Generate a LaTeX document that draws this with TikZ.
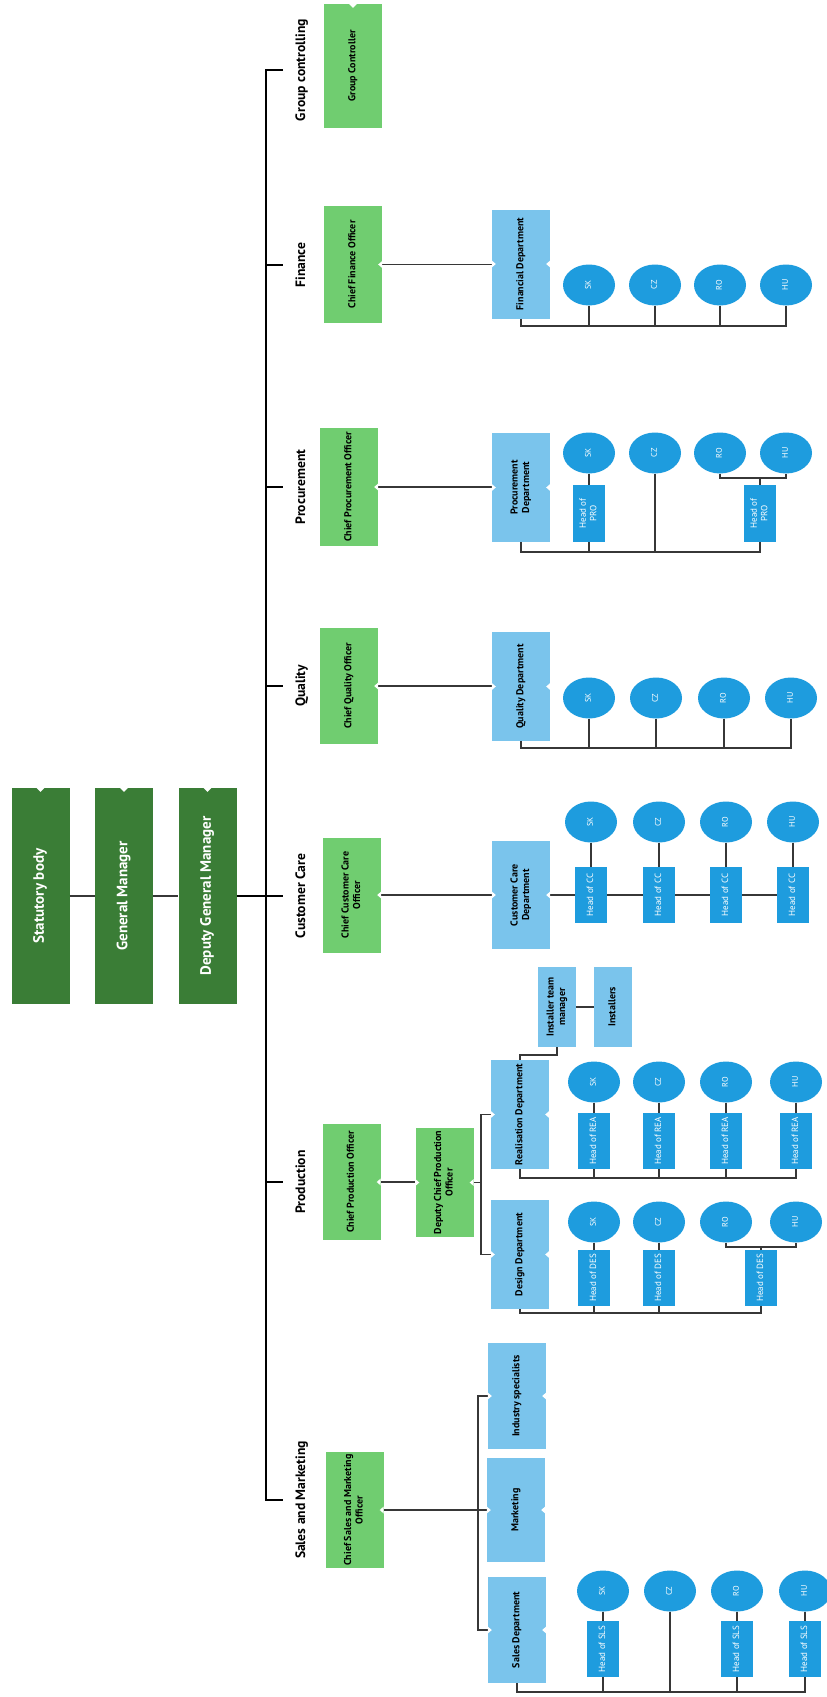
\documentclass[tikz,border=0pt]{standalone}
\usepackage{fontspec}
\setmainfont{PT Sans}
\usetikzlibrary{shapes.geometric}
\definecolor{dkgreen}{RGB}{58,125,54}
\definecolor{ltgreen}{RGB}{112,205,112}
\definecolor{ltblue}{RGB}{122,196,236}
\definecolor{mdblue}{RGB}{30,156,222}
\definecolor{lnc}{RGB}{55,55,55}
\newcommand\rt[1]{\rotatebox{90}{\begin{tabular}{@{}c@{}}#1\end{tabular}}}
\newcommand\notchR[1]{\fill[white] ([yshift=3.5pt]#1) -- ([xshift=-4pt]#1) -- ([yshift=-3.5pt]#1) -- cycle;}
\newcommand\notchL[1]{\fill[white] ([yshift=3.5pt]#1) -- ([xshift=4pt]#1) -- ([yshift=-3.5pt]#1) -- cycle;}
\newcommand\notchT[1]{\fill[white] ([xshift=-4pt]#1) -- ([yshift=-4pt]#1) -- ([xshift=4pt]#1) -- cycle;}
\begin{document}
\begin{tikzpicture}[x=1pt,y=-1pt,
  topbox/.style={fill=dkgreen, inner sep=0pt, minimum width=58pt, minimum height=216pt, text=white, font=\bfseries\fontsize{15}{17}\selectfont},
  chiefbox/.style={fill=ltgreen, inner sep=0pt, minimum width=58pt, font=\bfseries\fontsize{10}{11.5}\selectfont},
  deptbox/.style={fill=ltblue, inner sep=0pt, minimum width=58pt, font=\bfseries\fontsize{10}{11.5}\selectfont},
  headbox/.style={fill=mdblue, inner sep=0pt, minimum width=32pt, minimum height=56pt, text=white, font=\fontsize{9}{10.5}\selectfont},
  ctry/.style={ellipse, fill=mdblue, inner sep=0pt, minimum width=52pt, minimum height=41pt, text=white, font=\fontsize{8.2}{9}\selectfont},
  divtext/.style={inner sep=0pt, font=\bfseries\fontsize{13.6}{16}\selectfont},
  conn/.style={draw=lnc, line width=1.4pt},
  spine/.style={draw=black, line width=1.6pt},
]
\fill[white] (0,0) rectangle (827,1697);
\useasboundingbox (0,0) rectangle (827,1697);

% ---------- top level ----------
\node[topbox] (stat) at (40.5,896) {\rt{Statutory body}};
\node[topbox] (gm) at (124,896) {\rt{General Manager}};
\node[topbox] (dgm) at (207.5,896) {\rt{Deputy General Manager}};

% ---------- spine ----------
\foreach \n/\y in {gc/70, fin/265, pro/487, qua/686, cc/896, prd/1182, sm/1500} {
  \coordinate (sp\n) at (266,\y);
  \coordinate (tk\n) at (283,\y);
}
\draw[spine] (tkgc) -- (spgc) -- (spsm) -- (tksm);
\foreach \n in {fin, pro, qua, cc, prd} \draw[spine] (sp\n) -- (tk\n);
\draw[conn] (stat.east) -- (gm.west);
\draw[conn] (gm.east) -- (dgm.west);
\draw[spine] (dgm.east) -- (spcc);

% ---------- division labels ----------
\node[divtext] (lgc) at (302,70) {\rt{Group controlling}};
\node[divtext] (lfin) at (302,265) {\rt{Finance}};
\node[divtext] (lpro) at (302,487) {\rt{Procurement}};
\node[divtext] (lqua) at (302,686) {\rt{Quality}};
\node[divtext] (lcc) at (302,896) {\rt{Customer Care}};
\node[divtext] (lprd) at (302,1182) {\rt{Production}};
\node[divtext] (lsm) at (302,1500) {\rt{Sales and Marketing}};

% ---------- chiefs ----------
\node[chiefbox, minimum height=124pt] (gcb) at (353,66) {\rt{Group Controller}};
\node[chiefbox, minimum height=117pt] (cfo) at (353,264.5) {\rt{Chief Finance Officer}};
\node[chiefbox, minimum height=118pt] (cpo) at (349,487) {\rt{Chief Procurement Officer}};
\node[chiefbox, minimum height=116pt] (cqo) at (349,686) {\rt{Chief Quality Officer}};
\node[chiefbox, minimum height=115pt] (ccco) at (352,895) {\rt{Chief Customer Care\\Officer}};
\node[chiefbox, minimum height=116pt] (cprd) at (351.5,1182) {\rt{Chief Production Officer}};
\node[chiefbox, minimum height=116pt] (csmo) at (354.5,1510) {\rt{Chief Sales and Marketing\\Officer}};
\node[chiefbox, minimum height=109pt] (dcpo) at (444.5,1182.5) {\rt{Deputy Chief Production\\Officer}};

% ---------- departments ----------
\node[deptbox, minimum height=109pt] (fin) at (521,264) {\rt{Financial Department}};
\node[deptbox, minimum height=109pt] (prc) at (521,487.5) {\rt{Procurement\\Department}};
\node[deptbox, minimum height=109pt] (qua) at (521,686.5) {\rt{Quality Department}};
\node[deptbox, minimum height=108pt] (ccd) at (521,895) {\rt{Customer Care\\Department}};
\node[deptbox, minimum height=109pt] (rea) at (520,1114.5) {\rt{Realisation Department}};
\node[deptbox, minimum height=109pt] (des) at (520,1254.5) {\rt{Design Department}};
\node[deptbox, minimum height=106pt] (ind) at (517,1396) {\rt{Industry specialists}};
\node[deptbox, minimum height=104pt] (mkt) at (516,1510) {\rt{Marketing}};
\node[deptbox, minimum height=106pt] (sls) at (517,1630) {\rt{Sales Department}};
\node[deptbox, minimum width=38pt, minimum height=80pt] (itm) at (557,1007) {\rt{Installer team\\manager}};
\node[deptbox, minimum width=38pt, minimum height=80pt] (ins) at (613,1007) {\rt{Installers}};

% ---------- countries ----------
\foreach \rw/\y/\a/\b/\c/\d in {f/285/589/655/720/786, p/453/589/655/720/786, q/698/589/656/724/791, c/822/591/659/726/793, r/1082/594/659/726/796, d/1222/594/659/726/796, s/1591/603/670/737/805} {
  \node[ctry] (\rw SK) at (\a,\y) {\rt{SK}};
  \node[ctry] (\rw CZ) at (\b,\y) {\rt{CZ}};
  \node[ctry] (\rw RO) at (\c,\y) {\rt{RO}};
  \node[ctry] (\rw HU) at (\d,\y) {\rt{HU}};
}

% ---------- heads ----------
\node[headbox, minimum height=57pt] (hp1) at (589,513.5) {\rt{Head of\\PRO}};
\node[headbox, minimum height=57pt] (hp2) at (760,513.5) {\rt{Head of\\PRO}};
\node[headbox] (hc1) at (591,895) {\rt{Head of CC}};
\node[headbox] (hc2) at (659,895) {\rt{Head of CC}};
\node[headbox] (hc3) at (726,895) {\rt{Head of CC}};
\node[headbox] (hc4) at (793,895) {\rt{Head of CC}};
\node[headbox] (hr1) at (594,1141) {\rt{Head of REA}};
\node[headbox] (hr2) at (659,1141) {\rt{Head of REA}};
\node[headbox] (hr3) at (726,1141) {\rt{Head of REA}};
\node[headbox] (hr4) at (796,1141) {\rt{Head of REA}};
\node[headbox] (hd1) at (594,1278) {\rt{Head of DES}};
\node[headbox] (hd2) at (659,1278) {\rt{Head of DES}};
\node[headbox] (hd3) at (761,1278) {\rt{Head of DES}};
\node[headbox] (hs1) at (603,1649) {\rt{Head of SLS}};
\node[headbox] (hs3) at (737,1649) {\rt{Head of SLS}};
\node[headbox] (hs4) at (805,1649) {\rt{Head of SLS}};

% ---------- chief -> department ----------
\draw[conn] (cfo.east) -- (cfo.east -| fin.west);
\draw[conn] (cpo.east) -- (cpo.east -| prc.west);
\draw[conn] (cqo.east) -- (cqo.east -| qua.west);
\draw[conn] (ccco.east) -- (ccco.east -| ccd.west);

% ---------- finance ----------
\coordinate (fbus) at (521,326);
\draw[conn] (fin.south) -- (fin.south |- fbus) -- (fHU.south |- fbus) -- (fHU.south);
\foreach \e in {SK,CZ,RO} \draw[conn] (f\e.south) -- (f\e.south |- fbus);

% ---------- procurement ----------
\coordinate (pbus) at (521,552);
\coordinate (pjoin) at (720,478);
\draw[conn] (prc.south) -- (prc.south |- pbus) -- (hp2.south |- pbus) -- (hp2.south);
\draw[conn] (pSK.south) -- (hp1.north);
\draw[conn] (hp1.south) -- (hp1.south |- pbus);
\draw[conn] (pCZ.south) -- (pCZ.south |- pbus);
\draw[conn] (pRO.south) -- (pRO.south |- pjoin) -- (pHU.south |- pjoin) -- (pHU.south);
\draw[conn] (hp2.north |- pjoin) -- (hp2.north);

% ---------- quality ----------
\coordinate (qbus) at (521,748);
\draw[conn] (qua.south) -- (qua.south |- qbus) -- (qHU.south |- qbus) -- (qHU.south);
\foreach \e in {SK,CZ,RO} \draw[conn] (q\e.south) -- (q\e.south |- qbus);

% ---------- customer care ----------
\draw[conn] (ccd.east) -- (hc1.west);
\draw[conn] (hc1.east) -- (hc2.west);
\draw[conn] (hc2.east) -- (hc3.west);
\draw[conn] (hc3.east) -- (hc4.west);
\draw[conn] (cSK.south) -- (hc1.north);
\draw[conn] (cCZ.south) -- (hc2.north);
\draw[conn] (cRO.south) -- (hc3.north);
\draw[conn] (cHU.south) -- (hc4.north);

% ---------- production ----------
\coordinate (pbr) at (481,1182);
\draw[conn] (cprd.east) -- (cprd.east -| dcpo.west);
\draw[conn] (dcpo.east) -- (dcpo.east -| pbr);
\draw[conn] (rea.west) -- (rea.west -| pbr) -- (des.west -| pbr) -- (des.west);
\coordinate (ij) at (520,1055);
\draw[conn] (rea.north) -- (rea.north |- ij) -- (itm.south |- ij) -- (itm.south);
\draw[conn] (itm.east) -- (itm.east -| ins.west);
\coordinate (rbus) at (520,1178);
\draw[conn] (rea.south) -- (rea.south |- rbus) -- (hr4.south |- rbus) -- (hr4.south);
\draw[conn] (rSK.south) -- (hr1.north);
\draw[conn] (rCZ.south) -- (hr2.north);
\draw[conn] (rRO.south) -- (hr3.north);
\draw[conn] (rHU.south) -- (hr4.north);
\foreach \h in {hr1,hr2,hr3} \draw[conn] (\h.south) -- (\h.south |- rbus);
\coordinate (dbus) at (520,1313);
\coordinate (djoin) at (726,1247);
\draw[conn] (des.south) -- (des.south |- dbus) -- (hd3.south |- dbus) -- (hd3.south);
\draw[conn] (dSK.south) -- (hd1.north);
\draw[conn] (dCZ.south) -- (hd2.north);
\foreach \h in {hd1,hd2} \draw[conn] (\h.south) -- (\h.south |- dbus);
\draw[conn] (dRO.south) -- (dRO.south |- djoin) -- (dHU.south |- djoin) -- (dHU.south);
\draw[conn] (hd3.north |- djoin) -- (hd3.north);

% ---------- sales and marketing ----------
\coordinate (sbr) at (478,1510);
\draw[conn] (csmo.east) -- (csmo.east -| sbr);
\draw[conn] (ind.west) -- (ind.west -| sbr) -- (sls.west -| sbr) -- (sls.west);
\draw[conn] (mkt.west -| sbr) -- (mkt.west);
\coordinate (sbus) at (517,1692);
\draw[conn] (sls.south) -- (sls.south |- sbus) -- (hs4.south |- sbus) -- (hs4.south);
\draw[conn] (sSK.south) -- (hs1.north);
\draw[conn] (sRO.south) -- (hs3.north);
\draw[conn] (sHU.south) -- (hs4.north);
\draw[conn] (sCZ.south) -- (sCZ.south |- sbus);
\foreach \h in {hs1,hs3} \draw[conn] (\h.south) -- (\h.south |- sbus);

% ---------- notches ----------
\foreach \b in {stat,gm,dgm,gcb} \notchT{\b.north};
\foreach \b in {cfo,cpo,cqo,ccco,cprd,csmo,dcpo,fin,prc,qua,ccd,rea,des,ind,mkt,sls} \notchR{\b.east};
\foreach \b in {dcpo,fin,prc,qua,ccd,rea,des,ind,mkt,sls} \notchL{\b.west};
\end{tikzpicture}
\end{document}
